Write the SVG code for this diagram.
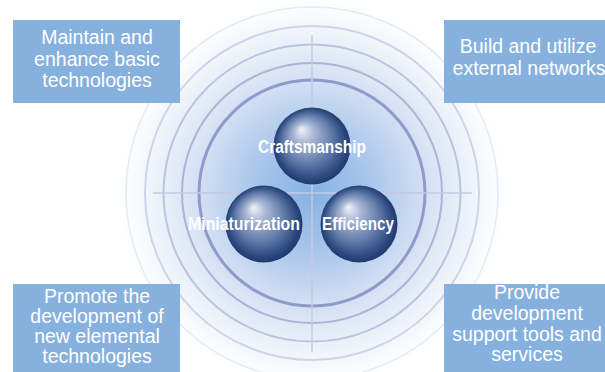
<svg xmlns="http://www.w3.org/2000/svg" width="605" height="372" viewBox="0 0 605 372">
  <defs>
    <radialGradient id="glow" cx="312" cy="193" r="192" gradientUnits="userSpaceOnUse">
      <stop offset="0" stop-color="#86b3e3"/>
      <stop offset="0.3" stop-color="#a8c5ea"/>
      <stop offset="0.58" stop-color="#d2dff3"/>
      <stop offset="0.8" stop-color="#ecf1f9"/>
      <stop offset="1" stop-color="#ffffff"/>
    </radialGradient>
    <radialGradient id="sphere" cx="0.5" cy="0.5" r="0.52" fx="0.36" fy="0.28">
      <stop offset="0" stop-color="#f0f4fa"/>
      <stop offset="0.25" stop-color="#aab8d6"/>
      <stop offset="0.6" stop-color="#637caa"/>
      <stop offset="0.85" stop-color="#304c83"/>
      <stop offset="1" stop-color="#1c3468"/>
    </radialGradient>
  </defs>
  <style>
    .ring { fill: none; }
    .box { fill: #86b1df; }
    .btxt { font-family: "Liberation Sans", Arial, sans-serif; font-size: 19.5px; fill: #ffffff; text-anchor: middle; }
    .stxt { font-family: "Liberation Sans Narrow", "Liberation Sans", Arial, sans-serif; font-weight: bold; font-size: 19px; fill: #ffffff; }
    .cross { stroke: #c3cae3; stroke-width: 1.5; }
  </style>

  <g id="background">
    <circle cx="312" cy="193" r="192" fill="url(#glow)"/>
    <circle class="ring" cx="312" cy="193" r="186" stroke="#e6eaf4" stroke-width="1.5"/>
    <circle class="ring" cx="312" cy="193" r="167" stroke="#cdd3e9" stroke-width="2"/>
    <circle class="ring" cx="312" cy="193" r="148.5" stroke="#bcc3e0" stroke-width="2"/>
    <circle class="ring" cx="312" cy="193" r="130" stroke="#aab3d8" stroke-width="2"/>
    <circle class="ring" cx="312" cy="193" r="113" stroke="#8f9acb" stroke-width="3"/>
  </g>

  <g id="connectors">
    <line class="cross" x1="153" y1="193" x2="472" y2="193"/>
    <line class="cross" x1="312" y1="35" x2="312" y2="352"/>
  </g>

  <g id="node-craftsmanship">
    <circle cx="312" cy="146" r="38.5" fill="url(#sphere)"/>
    <text class="stxt" x="258" y="152.5" textLength="108" lengthAdjust="spacingAndGlyphs">Craftsmanship</text>
  </g>
  <g id="node-miniaturization">
    <circle cx="264" cy="224" r="38.5" fill="url(#sphere)"/>
    <text class="stxt" x="188" y="229.5" textLength="112" lengthAdjust="spacingAndGlyphs">Miniaturization</text>
  </g>
  <g id="node-efficiency">
    <circle cx="359" cy="224" r="38.5" fill="url(#sphere)"/>
    <text class="stxt" x="322" y="229.5" textLength="72" lengthAdjust="spacingAndGlyphs">Efficiency</text>
  </g>

  <g id="node-basic">
    <rect class="box" x="13" y="20" width="167" height="83"/>
    <text class="btxt" x="97" y="44">Maintain and</text>
    <text class="btxt" x="97" y="65.7">enhance basic</text>
    <text class="btxt" x="97" y="87.4">technologies</text>
  </g>
  <g id="node-networks">
    <rect class="box" x="444" y="20" width="161" height="83"/>
    <text class="btxt" x="528" y="53">Build and utilize</text>
    <text class="btxt" x="529" y="75">external networks</text>
  </g>
  <g id="node-elemental">
    <rect class="box" x="13" y="284" width="167" height="88"/>
    <text class="btxt" x="97" y="303">Promote the</text>
    <text class="btxt" x="97" y="323">development of</text>
    <text class="btxt" x="97" y="343">new elemental</text>
    <text class="btxt" x="97" y="363">technologies</text>
  </g>
  <g id="node-support">
    <rect class="box" x="444" y="284" width="161" height="88"/>
    <text class="btxt" x="527" y="299">Provide</text>
    <text class="btxt" x="527" y="320">development</text>
    <text class="btxt" x="527" y="341">support tools and</text>
    <text class="btxt" x="527" y="361">services</text>
  </g>
</svg>
